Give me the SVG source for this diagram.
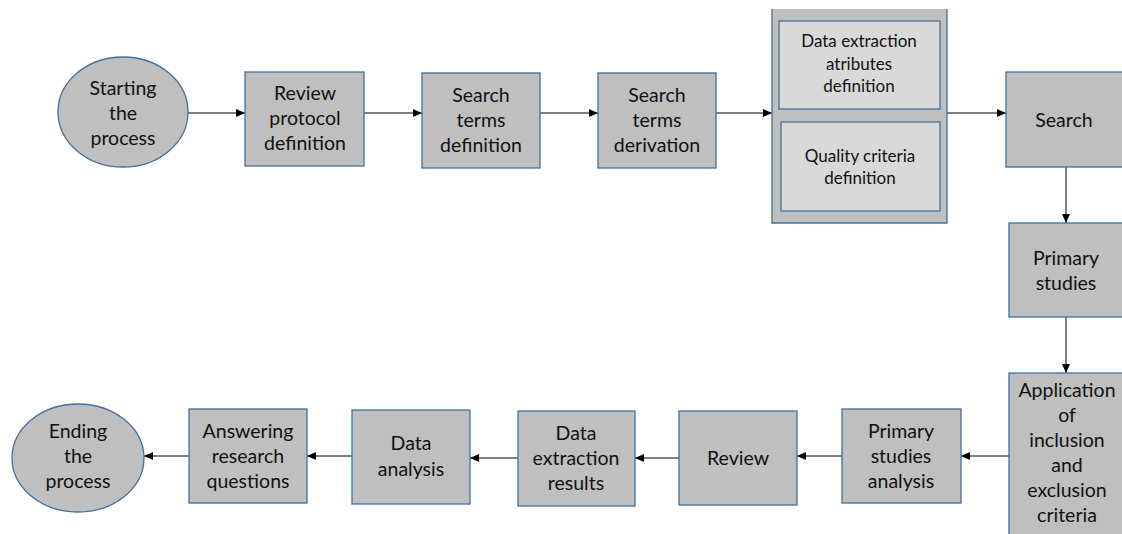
<svg xmlns="http://www.w3.org/2000/svg" width="1122" height="534" viewBox="0 0 1122 534">
<defs>
<style>
.n{fill:#bfbfbf;stroke:#41719c;stroke-width:1.3}
.in{fill:#d9d9d9;stroke:#41719c;stroke-width:1.3}
.t{font-family:Lato,"Liberation Sans",sans-serif;font-size:19.5px;fill:#111;text-anchor:middle}
.s{font-family:Lato,"Liberation Sans",sans-serif;font-size:17px;fill:#111;text-anchor:middle}
.c{stroke:#000;stroke-width:1;fill:none;marker-end:url(#ah)}
</style>
<marker id="ah" markerUnits="userSpaceOnUse" markerWidth="9" markerHeight="8" refX="9" refY="4" orient="auto">
<path d="M0,0 L9,4 L0,8 Z" fill="#000"/>
</marker>
</defs>
<g id="connectors">
<path class="c" d="M188,113 H245"/>
<path class="c" d="M364,113 H422"/>
<path class="c" d="M540,113 H598"/>
<path class="c" d="M716,113 H772"/>
<path class="c" d="M947,113 H1006"/>
<path class="c" d="M1066,167 V223"/>
<path class="c" d="M1066,317 V373"/>
<path class="c" d="M1009,456 H961"/>
<path class="c" d="M842,456 H797"/>
<path class="c" d="M679,458 H635"/>
<path class="c" d="M518,458 H470"/>
<path class="c" d="M352,456 H307"/>
<path class="c" d="M189,456 H144"/>
</g>
<g id="start">
<ellipse class="n" cx="123" cy="112" rx="65" ry="55"/>
<text class="t" x="123" y="95">Starting</text>
<text class="t" x="123" y="120">the</text>
<text class="t" x="123" y="145">process</text>
</g>
<g id="review-protocol">
<rect class="n" x="245" y="72" width="119" height="94"/>
<text class="t" x="305" y="100">Review</text>
<text class="t" x="305" y="125">protocol</text>
<text class="t" x="305" y="150">definition</text>
</g>
<g id="search-terms-definition">
<rect class="n" x="422" y="73" width="118" height="95"/>
<text class="t" x="481" y="102">Search</text>
<text class="t" x="481" y="127">terms</text>
<text class="t" x="481" y="152">definition</text>
</g>
<g id="search-terms-derivation">
<rect class="n" x="598" y="73" width="118" height="95"/>
<text class="t" x="657" y="102">Search</text>
<text class="t" x="657" y="127">terms</text>
<text class="t" x="657" y="152">derivation</text>
</g>
<g id="definitions-group">
<rect x="772" y="9" width="175" height="214" fill="#bfbfbf"/>
<path d="M772,9 V223 H947 V9" fill="none" stroke="#41719c" stroke-width="1.3"/>
<g id="data-extraction-attributes">
<rect class="in" x="779" y="21" width="161" height="88"/>
<text class="s" x="859" y="47">Data extraction</text>
<text class="s" x="859" y="70">atributes</text>
<text class="s" x="859" y="92">definition</text>
</g>
<g id="quality-criteria">
<rect class="in" x="781" y="122" width="159" height="89"/>
<text class="s" x="860" y="162">Quality criteria</text>
<text class="s" x="860" y="184">definition</text>
</g>
</g>
<g id="search">
<rect class="n" x="1006" y="72" width="130" height="95"/>
<text class="t" x="1064" y="127">Search</text>
</g>
<g id="primary-studies">
<rect class="n" x="1009" y="223" width="127" height="94"/>
<text class="t" x="1066" y="265">Primary</text>
<text class="t" x="1066" y="290">studies</text>
</g>
<g id="application-criteria">
<rect class="n" x="1009" y="373" width="127" height="175"/>
<text class="t" x="1067" y="397">Application</text>
<text class="t" x="1067" y="422">of</text>
<text class="t" x="1067" y="447">inclusion</text>
<text class="t" x="1067" y="472">and</text>
<text class="t" x="1067" y="497">exclusion</text>
<text class="t" x="1067" y="522">criteria</text>
</g>
<g id="primary-studies-analysis">
<rect class="n" x="842" y="409" width="119" height="94"/>
<text class="t" x="901" y="438">Primary</text>
<text class="t" x="901" y="463">studies</text>
<text class="t" x="901" y="488">analysis</text>
</g>
<g id="review">
<rect class="n" x="679" y="411" width="118" height="94"/>
<text class="t" x="738" y="465">Review</text>
</g>
<g id="data-extraction-results">
<rect class="n" x="518" y="411" width="117" height="95"/>
<text class="t" x="576" y="440">Data</text>
<text class="t" x="576" y="465">extraction</text>
<text class="t" x="576" y="490">results</text>
</g>
<g id="data-analysis">
<rect class="n" x="352" y="410" width="118" height="94"/>
<text class="t" x="411" y="450">Data</text>
<text class="t" x="411" y="476">analysis</text>
</g>
<g id="answering">
<rect class="n" x="189" y="409" width="118" height="94"/>
<text class="t" x="248" y="438">Answering</text>
<text class="t" x="248" y="463">research</text>
<text class="t" x="248" y="488">questions</text>
</g>
<g id="end">
<ellipse class="n" cx="78" cy="458" rx="66" ry="54"/>
<text class="t" x="78" y="438">Ending</text>
<text class="t" x="78" y="463">the</text>
<text class="t" x="78" y="488">process</text>
</g>
</svg>
